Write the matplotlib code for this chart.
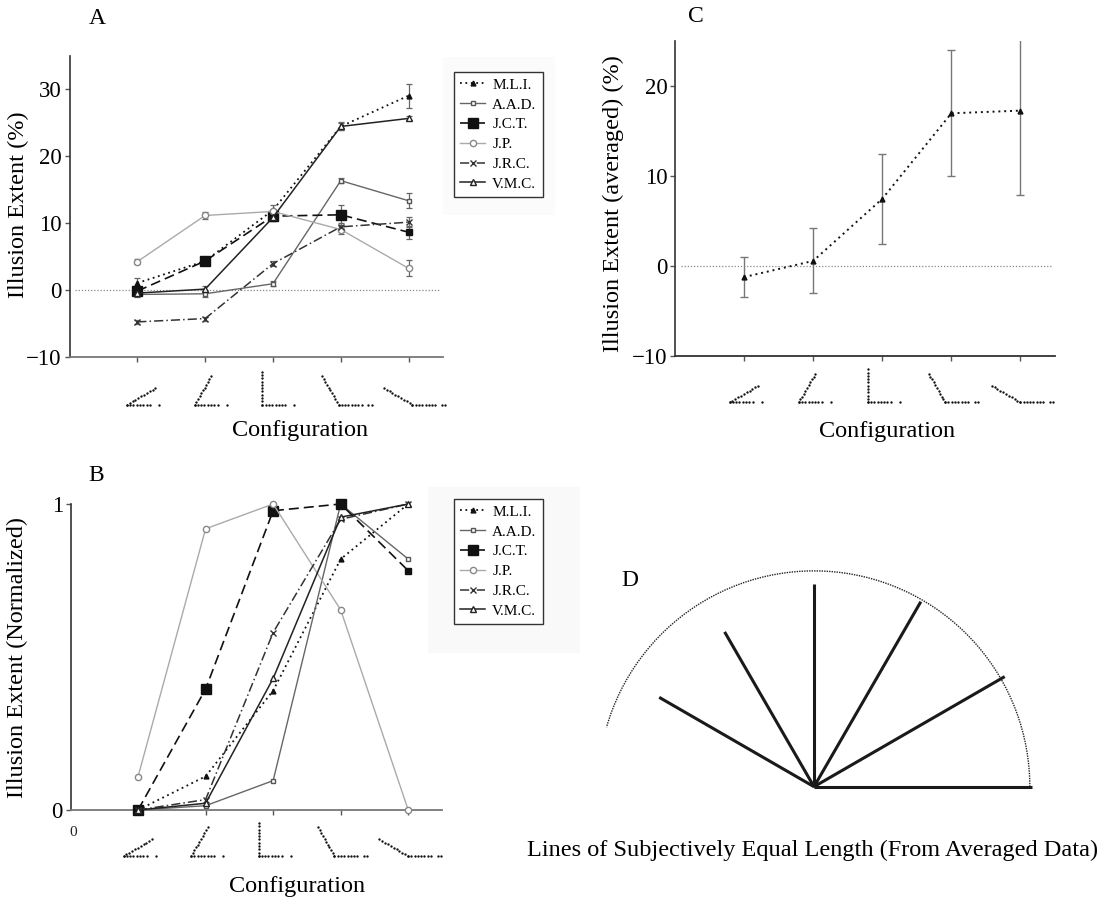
import numpy as np
import matplotlib
matplotlib.use('Agg')
import matplotlib.pyplot as plt
from matplotlib.lines import Line2D
from matplotlib.patches import Arc, Rectangle

plt.rcParams['font.family'] = ['Liberation Serif', 'DejaVu Serif']
plt.rcParams['axes.unicode_minus'] = True

W, H = 1102, 897

# --- data ---
configs = [1, 2, 3, 4, 5]
config_angles = [30, 60, 90, 120, 150]   # angle of the slanted arm in each figure
observers = ['M.L.I.', 'A.A.D.', 'J.C.T.', 'J.P.', 'J.R.C.', 'V.M.C.']

# panel A: illusion extent (%) per observer
mli = [1.0, 4.3, 11.9, 24.4, 29.0]
aad = [-0.7, -0.6, 0.9, 16.3, 13.3]
jct = [-0.2, 4.3, 11.0, 11.2, 8.6]
jp = [4.2, 11.1, 11.7, 9.0, 3.2]
jrc = [-4.8, -4.3, 3.9, 9.4, 10.1]
vmc = [-0.5, 0.1, 10.8, 24.4, 25.6]

mli_err = [0.7, 0.5, 0.7, 0.5, 1.8]
aad_err = [0.4, 0.5, 0.4, 0.4, 1.1]
jct_err = [0.4, 0.4, 0.8, 1.5, 1.0]
jp_err = [0.4, 0.5, 0.4, 0.6, 1.2]
jrc_err = [0.3, 0.3, 0.4, 0.6, 0.7]
vmc_err = [0.4, 0.4, 0.6, 0.6, 0.3]

# panel B: normalized illusion extent
mli_norm = [0.0, 0.11, 0.39, 0.82, 1.0]
aad_norm = [0.0, 0.014, 0.096, 1.0, 0.82]
jct_norm = [0.0, 0.395, 0.978, 1.0, 0.782]
jp_norm = [0.109, 0.919, 1.0, 0.654, 0.0]
jrc_norm = [0.0, 0.034, 0.58, 0.95, 1.0]
vmc_norm = [0.0, 0.022, 0.43, 0.957, 1.0]

# panel C: averaged extent
avg = [-1.2, 0.6, 7.5, 17.0, 17.3]
avg_err = [2.2, 3.6, 5.0, 7.0, 9.4]

# panel D: lines of subjectively equal length
d_angles = [0, 30, 60, 90, 120, 150]
d_lengths = [1.0, 1.01, 0.98, 0.93, 0.82, 0.82]

# --- styles ---
styles = {
    'M.L.I.': dict(color='#111111', ls=(0, (1, 2)), lw=1.3, marker='^', ms=3.5, mfc='#111111', mec='#111111'),
    'A.A.D.': dict(color='#666666', ls='-', lw=1.0, marker='s', ms=3.5, mfc='white', mec='#555555'),
    'J.C.T.': dict(color='#111111', ls=(0, (6, 3)), lw=1.2, marker='s', ms=7, mfc='#111111', mec='#111111'),
    'J.P.': dict(color='#aaaaaa', ls='-', lw=1.0, marker='o', ms=4.5, mfc='white', mec='#888888'),
    'J.R.C.': dict(color='#333333', ls=(0, (6, 2, 1, 2)), lw=1.1, marker='x', ms=5, mfc='#333333', mec='#333333'),
    'V.M.C.': dict(color='#222222', ls='-', lw=1.1, marker='^', ms=5, mfc='white', mec='#222222'),
}

fig = plt.figure(figsize=(W / 100, H / 100), dpi=100)


def px_axes(left, top, right, bottom):
    return fig.add_axes([left / W, 1 - bottom / H, (right - left) / W, (bottom - top) / H])


def style_axes(ax, bottom_color):
    ax.spines['top'].set_visible(False)
    ax.spines['right'].set_visible(False)
    ax.spines['left'].set_color('#333333')
    ax.spines['left'].set_linewidth(1.2)
    ax.spines['bottom'].set_color(bottom_color)
    ax.spines['bottom'].set_linewidth(1.3)
    ax.tick_params(axis='both', direction='out', length=3.5, width=1.0, color='#555555',
                   labelsize=16.5, pad=2)
    ax.set_xlim(0, 5.5)
    ax.set_xticks(configs)
    ax.set_xticklabels([''] * len(configs))


def dotted_segment(x0, y0, x1, y1, step=3.3):
    # one dotted arm of a configuration figure, drawn as dots in pixel units
    n = max(int(round(np.hypot(x1 - x0, y1 - y0) / step)), 0) + 1
    f = np.linspace(0, 1, n)
    xs = x0 + (x1 - x0) * f
    ys = y0 + (y1 - y0) * f
    fig.add_artist(Line2D(xs / W, ys / H, transform=fig.transFigure, ls='none',
                          marker='o', ms=1.7, mew=0, mfc='#111111'))


def draw_icons(ax, shift_px, drop_px):
    y0 = ax.get_ylim()[0]
    for x, ang in zip(configs, config_angles):
        bx, by = ax.transData.transform((x, y0))
        t = np.deg2rad(ang)
        arm = 33
        ex, ey = arm * np.cos(t), arm * np.sin(t)
        c = (min(0, ex) + 33) / 2
        vx = bx + shift_px - c
        vy = by - drop_px
        dotted_segment(vx, vy, vx + ex, vy + ey)
        dotted_segment(vx, vy, vx + 23, vy)
        if ang >= 120:
            dotted_segment(vx + 29.7, vy, vx + 33, vy)
        else:
            dotted_segment(vx + 32, vy, vx + 32, vy)


def zero_line(ax):
    ax.axhline(0, xmin=0.015, xmax=0.99, color='#888888', lw=0.9, ls=(0, (1, 1.5)), zorder=1)


def make_legend(ax, handles, top_px):
    leg = ax.legend(handles, observers, loc='upper left', bbox_to_anchor=(454 / W, 1 - top_px / H),
                    bbox_transform=fig.transFigure, borderaxespad=0, frameon=True, fancybox=False,
                    edgecolor='#333333', framealpha=1, fontsize=11, handlelength=1.65,
                    handletextpad=0.45, borderpad=0.4, labelspacing=0.4)
    leg.get_frame().set_linewidth(1.0)


def plot_observer(ax, name, vals, **kw):
    st = dict(styles[name])
    if name == 'J.C.T.':
        # last point of this series is drawn with a small square
        h, = ax.plot(configs, vals, label=name, markevery=[0, 1, 2, 3], **st, **kw)
        st.update(ms=4, ls='none')
        ax.plot(configs[4:], vals[4:], **st, **kw)
    else:
        h, = ax.plot(configs, vals, label=name, **st, **kw)
    return h


# faint backgrounds behind the legends
fig.add_artist(Rectangle((443 / W, 1 - 215 / H), 112 / W, 158 / H, transform=fig.transFigure,
                         facecolor='#fbfbfb', edgecolor='none', zorder=0))
fig.add_artist(Rectangle((428 / W, 1 - 653 / H), 152 / W, 166 / H, transform=fig.transFigure,
                         facecolor='#f9f9f9', edgecolor='none', zorder=0))

# ---------------- panel A ----------------
axA = px_axes(69.5, 55.5, 442.5, 356.7)
axA.patch.set_alpha(0)
style_axes(axA, '#777777')
axA.set_ylim(-10, 35)
axA.set_yticks([-10, 0, 10, 20, 30])
zero_line(axA)

a_series = [mli, aad, jct, jp, jrc, vmc]
a_errs = [mli_err, aad_err, jct_err, jp_err, jrc_err, vmc_err]
handles = []
for name, vals, err in zip(observers, a_series, a_errs):
    axA.errorbar(configs, vals, yerr=err, fmt='none', ecolor='#666666', elinewidth=0.9,
                 capsize=2.5, capthick=0.9, zorder=2)
    handles.append(plot_observer(axA, name, vals, zorder=3))
make_legend(axA, handles, 72)
draw_icons(axA, 6, 48)

# ---------------- panel C ----------------
axC = px_axes(675, 41.3, 1055, 356.3)
style_axes(axC, '#333333')
axC.set_ylim(-10, 25)
axC.set_yticks([-10, 0, 10, 20])
zero_line(axC)
axC.errorbar(configs, avg, yerr=avg_err, fmt='none', ecolor='#777777', elinewidth=1.0,
             capsize=3, capthick=1.0, zorder=2)
axC.plot(configs, avg, color='#111111', ls=(0, (1, 2)), lw=1.4, marker='^', ms=3.5,
         mfc='#111111', mec='#111111', zorder=3)
draw_icons(axC, 2, 46)

# ---------------- panel B ----------------
axB = px_axes(70.5, 504, 442, 810)
axB.patch.set_alpha(0)
style_axes(axB, '#777777')
axB.set_ylim(0, 1)
axB.set_yticks([0, 1])
b_series = [mli_norm, aad_norm, jct_norm, jp_norm, jrc_norm, vmc_norm]
handles = []
for name, vals in zip(observers, b_series):
    handles.append(plot_observer(axB, name, vals, clip_on=False, zorder=3))
make_legend(axB, handles, 499)
draw_icons(axB, 2, 46)
fig.text(73 / W, 1 - 832 / H, '0', fontsize=11, ha='center', va='center', color='#222222')

# ---------------- panel D ----------------
axD = px_axes(814 - 1.2 * 218, 786.7 - 1.15 * 218, 814 + 1.2 * 218, 786.7 + 0.1 * 218)
axD.set_xlim(-1.2, 1.2)
axD.set_ylim(-0.1, 1.15)
axD.set_aspect('equal')
axD.axis('off')
axD.add_patch(Arc((0, 0), 1.98, 1.98, theta1=0, theta2=164, color='#222222', lw=1.0,
                  ls=(0, (1, 0.8))))
for ang, ln in zip(d_angles, d_lengths):
    t = np.deg2rad(ang)
    axD.plot([0, ln * np.cos(t)], [0, ln * np.sin(t)], color='#1a1a1a', lw=2.2,
             solid_capstyle='butt')

# ---------------- texts ----------------
fig.text(97 / W, 1 - 19 / H, 'A', fontsize=17, ha='center', va='center')
fig.text(696 / W, 1 - 17 / H, 'C', fontsize=17, ha='center', va='center')
fig.text(96 / W, 1 - 475 / H, 'B', fontsize=17, ha='center', va='center')
fig.text(630 / W, 1 - 580 / H, 'D', fontsize=17, ha='center', va='center')

fig.text(18 / W, 1 - 205 / H, 'Illusion Extent (%)', fontsize=17.5, rotation=90,
         ha='center', va='center')
fig.text(613 / W, 1 - 204 / H, 'Illusion Extent (averaged) (%)', fontsize=17.5, rotation=90,
         ha='center', va='center')
fig.text(17 / W, 1 - 657 / H, 'Illusion Extent (Normalized)', fontsize=17.5, rotation=90,
         ha='center', va='center')

fig.text(300 / W, 1 - 430 / H, 'Configuration', fontsize=17.5, ha='center', va='center')
fig.text(887 / W, 1 - 431 / H, 'Configuration', fontsize=17.5, ha='center', va='center')
fig.text(297 / W, 1 - 886 / H, 'Configuration', fontsize=17.5, ha='center', va='center')
fig.text(813 / W, 1 - 850 / H, 'Lines of Subjectively Equal Length (From Averaged Data)',
         fontsize=17.5, ha='center', va='center')

fig.savefig('out.png', dpi=100)
